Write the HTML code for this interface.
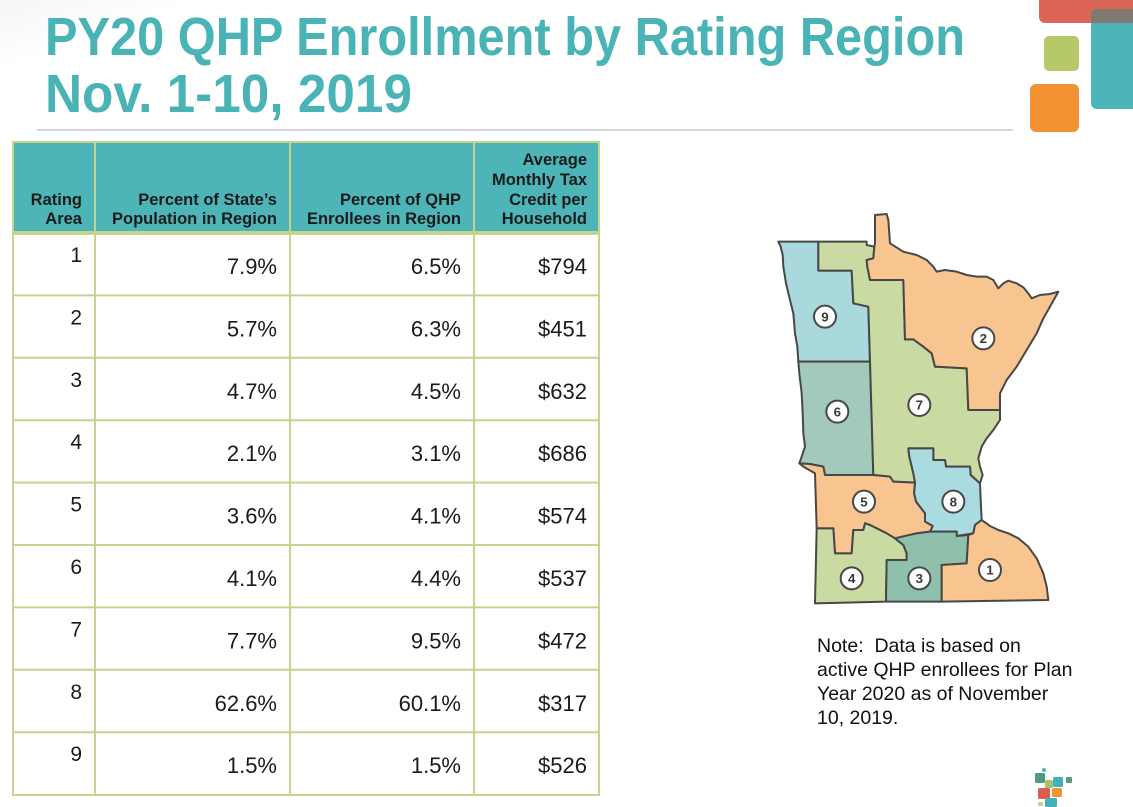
<!DOCTYPE html>
<html>
<head>
<meta charset="utf-8">
<style>
  html,body{margin:0;padding:0;background:#fff;}
  body{width:1133px;height:807px;overflow:hidden;position:relative;}
  svg{position:absolute;left:0;top:0;}
  text{font-family:"Liberation Sans",Arial,sans-serif;}
</style>
</head>
<body>
<svg width="1133" height="807" viewBox="0 0 1133 807" xmlns="http://www.w3.org/2000/svg">
  <defs>
    <linearGradient id="bg" x1="0" y1="0" x2="1" y2="1">
      <stop offset="0" stop-color="#efefef"/>
      <stop offset="0.25" stop-color="#ffffff"/>
    </linearGradient>
  </defs>
  <rect x="0" y="0" width="1133" height="807" fill="#fff"/>
  <rect x="0" y="0" width="400" height="140" fill="url(#bg)" opacity="0.6"/>

  <!-- Title -->
  <text x="45" y="55" font-size="54" font-weight="bold" fill="#4ab3b5" textLength="920" lengthAdjust="spacingAndGlyphs">PY20 QHP Enrollment by Rating Region</text>
  <text x="45" y="112" font-size="54" font-weight="bold" fill="#4ab3b5" textLength="367" lengthAdjust="spacingAndGlyphs">Nov. 1-10, 2019</text>
  <rect x="37" y="129" width="976" height="2" fill="#d6d6d6"/>

  <!-- Top right decoration -->
  <rect x="1039" y="-10" width="110" height="33" rx="6" fill="#dc6656"/>
  <rect x="1091" y="9" width="60" height="100" rx="6" fill="#4db5b9"/>
  <rect x="1091" y="9" width="60" height="14" rx="5" fill="#7f7a73"/>
  <rect x="1091" y="16" width="60" height="7" fill="#7f7a73"/>
  <rect x="1044" y="36" width="35" height="35" rx="5" fill="#b5c96b"/>
  <rect x="1030" y="84" width="49" height="48" rx="6" fill="#f29232"/>

  <!-- Table -->
  <rect x="13" y="142" width="586" height="91" fill="#4db5b7"/>
  <g stroke="#c6d48e" stroke-width="2" fill="none">
    <rect x="13" y="142" width="586" height="653"/>
    <line x1="95" y1="142" x2="95" y2="795"/>
    <line x1="290" y1="142" x2="290" y2="795"/>
    <line x1="474" y1="142" x2="474" y2="795"/>
    <line x1="13" y1="295.4" x2="599" y2="295.4"/>
    <line x1="13" y1="357.8" x2="599" y2="357.8"/>
    <line x1="13" y1="420.2" x2="599" y2="420.2"/>
    <line x1="13" y1="482.6" x2="599" y2="482.6"/>
    <line x1="13" y1="545" x2="599" y2="545"/>
    <line x1="13" y1="607.4" x2="599" y2="607.4"/>
    <line x1="13" y1="669.8" x2="599" y2="669.8"/>
    <line x1="13" y1="732.2" x2="599" y2="732.2"/>
  </g>
  <rect x="13" y="231" width="586" height="4" fill="#c6d48e"/>

  <g font-size="16.5" font-weight="bold" fill="#1b1b1b" text-anchor="end">
    <text x="82" y="205">Rating</text>
    <text x="82" y="224">Area</text>
    <text x="277" y="205">Percent of State’s</text>
    <text x="277" y="224">Population in Region</text>
    <text x="461" y="205">Percent of QHP</text>
    <text x="461" y="224">Enrollees in Region</text>
    <text x="587" y="165">Average</text>
    <text x="587" y="185">Monthly Tax</text>
    <text x="587" y="205">Credit per</text>
    <text x="587" y="224">Household</text>
  </g>

  <g fill="#1a1a1a" text-anchor="end">
    <g font-size="21">
      <text x="82" y="262">1</text>
      <text x="82" y="324.4">2</text>
      <text x="82" y="386.8">3</text>
      <text x="82" y="449.2">4</text>
      <text x="82" y="511.6">5</text>
      <text x="82" y="574">6</text>
      <text x="82" y="636.4">7</text>
      <text x="82" y="698.8">8</text>
      <text x="82" y="761.2">9</text>
    </g>
    <g font-size="22">
      <text x="277" y="274">7.9%</text><text x="461" y="274">6.5%</text><text x="587" y="274">$794</text>
      <text x="277" y="336.4">5.7%</text><text x="461" y="336.4">6.3%</text><text x="587" y="336.4">$451</text>
      <text x="277" y="398.8">4.7%</text><text x="461" y="398.8">4.5%</text><text x="587" y="398.8">$632</text>
      <text x="277" y="461.2">2.1%</text><text x="461" y="461.2">3.1%</text><text x="587" y="461.2">$686</text>
      <text x="277" y="523.6">3.6%</text><text x="461" y="523.6">4.1%</text><text x="587" y="523.6">$574</text>
      <text x="277" y="586">4.1%</text><text x="461" y="586">4.4%</text><text x="587" y="586">$537</text>
      <text x="277" y="648.4">7.7%</text><text x="461" y="648.4">9.5%</text><text x="587" y="648.4">$472</text>
      <text x="277" y="710.8">62.6%</text><text x="461" y="710.8">60.1%</text><text x="587" y="710.8">$317</text>
      <text x="277" y="773.2">1.5%</text><text x="461" y="773.2">1.5%</text><text x="587" y="773.2">$526</text>
    </g>
  </g>

  <!-- Map -->
  <g transform="translate(760,200) scale(0.33333)" stroke="#474747" stroke-width="6" stroke-linejoin="round">
    <!-- Region 9 -->
    <polygon fill="#a9d9dc" points="55,125 175,125 175,212 275,212 280,310 325,320 330,485 115,485 112,440 105,400 100,340 90,300 78,250 70,200 68,165 62,140"/>
    <!-- Region 6 -->
    <polygon fill="#a2c9b9" points="115,485 330,485 340,825 195,825 190,800 150,792 118,790 125,770 135,740 130,700 128,640 125,580 118,520"/>
    <!-- Region 7 -->
    <polygon fill="#c9dba2" points="175,125 320,125 320,135 343,140 340,175 320,180 322,200 330,240 430,240 435,418 460,418 490,440 515,460 525,500 620,505 625,630 720,630 720,660 700,690 680,715 665,740 655,775 660,800 668,825 660,850 632,825 630,800 558,800 555,780 520,780 520,745 445,745 448,770 460,820 465,848 400,845 390,830 340,825 330,485 325,320 280,310 275,212 175,212"/>
    <!-- Region 2 -->
    <polygon fill="#f8c490" points="345,45 380,42 385,60 390,130 430,155 470,165 500,180 520,200 530,215 555,210 590,215 620,225 650,230 680,230 700,240 715,265 730,250 745,242 770,250 790,262 805,280 815,295 840,285 870,282 895,275 870,320 850,355 830,400 800,450 770,500 740,540 720,580 720,630 625,630 620,505 525,500 515,460 490,440 460,418 435,418 430,240 330,240 322,200 320,180 340,175 343,140 345,130"/>
    <!-- Region 8 -->
    <polygon fill="#aadbe0" points="445,745 520,745 520,780 555,780 558,800 630,800 632,825 660,850 662,900 665,960 645,975 640,1000 590,1008 590,995 510,995 518,978 495,965 495,940 468,905 462,880 465,848 460,820 448,770"/>
    <!-- Region 5 -->
    <polygon fill="#f8c490" points="118,790 150,792 190,800 195,825 340,825 390,830 400,845 465,848 462,880 468,905 495,940 495,965 518,978 510,995 470,1000 405,1015 380,1000 330,975 315,970 310,990 280,990 275,1060 225,1060 220,985 170,985 165,820 130,800"/>
    <!-- Region 4 -->
    <polygon fill="#c9dba2" points="170,985 220,985 225,1060 275,1060 280,990 310,990 315,970 330,975 380,1000 405,1015 430,1035 440,1060 440,1080 380,1080 378,1205 165,1210"/>
    <!-- Region 3 -->
    <polygon fill="#8fc0ac" points="380,1080 440,1080 440,1060 430,1035 405,1015 470,1000 510,995 590,995 590,1008 625,1005 620,1090 545,1095 545,1205 378,1205"/>
    <!-- Region 1 -->
    <polygon fill="#f8c490" points="625,1005 640,1000 645,975 665,960 690,978 715,990 745,1000 775,1015 805,1040 830,1075 850,1120 860,1160 865,1200 545,1205 545,1095 620,1090"/>

    <g fill="#fff" stroke="#474747" stroke-width="6">
      <circle cx="195" cy="350" r="33"/>
      <circle cx="670" cy="415" r="33"/>
      <circle cx="232" cy="635" r="33"/>
      <circle cx="478" cy="615" r="33"/>
      <circle cx="312" cy="905" r="33"/>
      <circle cx="580" cy="905" r="33"/>
      <circle cx="275" cy="1135" r="33"/>
      <circle cx="478" cy="1135" r="33"/>
      <circle cx="690" cy="1110" r="33"/>
    </g>
    <g fill="#3a3a3a" stroke="none" font-size="40" font-weight="bold" text-anchor="middle">
      <text x="195" y="364">9</text>
      <text x="670" y="429">2</text>
      <text x="232" y="649">6</text>
      <text x="478" y="629">7</text>
      <text x="312" y="919">5</text>
      <text x="580" y="919">8</text>
      <text x="275" y="1149">4</text>
      <text x="478" y="1149">3</text>
      <text x="690" y="1124">1</text>
    </g>
  </g>

  <!-- Note -->
  <g font-size="19.5" fill="#111">
    <text x="817" y="652" xml:space="preserve">Note:  Data is based on</text>
    <text x="817" y="676">active QHP enrollees for Plan</text>
    <text x="817" y="700">Year 2020 as of November</text>
    <text x="817" y="724">10, 2019.</text>
  </g>

  <!-- Bottom-right logo -->
  <g>
    <circle cx="1044" cy="770" r="2" fill="#4db5b9"/>
    <rect x="1035" y="773" width="10" height="10" rx="1.5" fill="#4f9a80"/>
    <rect x="1045" y="780" width="8" height="8" rx="1.5" fill="#a8c46a"/>
    <rect x="1053" y="777" width="10" height="10" rx="1.5" fill="#3fb3b7"/>
    <rect x="1066" y="777" width="6" height="6" rx="1" fill="#5a9a7e"/>
    <rect x="1038" y="788" width="12" height="11" rx="1.5" fill="#df5b4f"/>
    <rect x="1052" y="788" width="10" height="9" rx="1.5" fill="#f29232"/>
    <rect x="1045" y="798" width="12" height="9" rx="1.5" fill="#3fb3b7"/>
    <rect x="1038" y="802" width="5" height="4" rx="1" fill="#c9d48a"/>
  </g>
</svg>
</body>
</html>
